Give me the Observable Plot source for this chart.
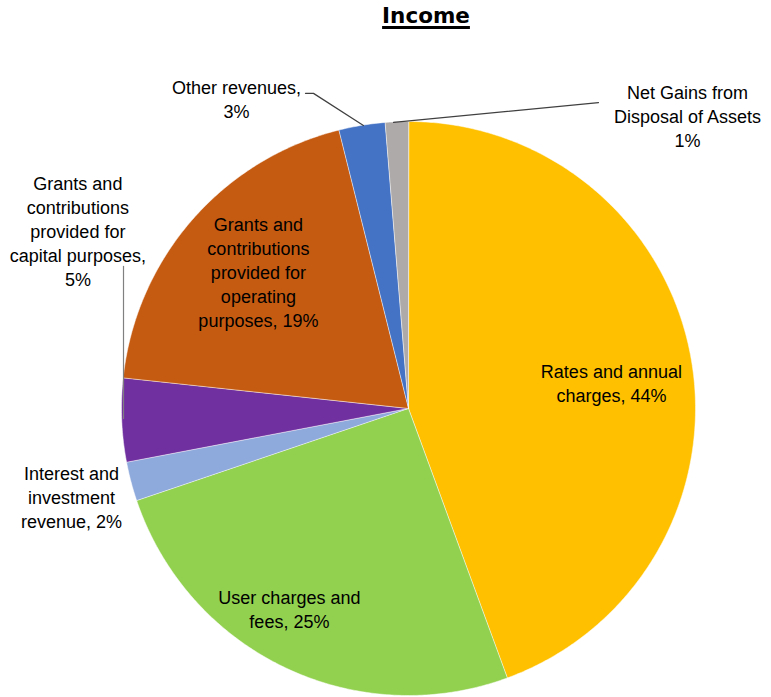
<!DOCTYPE html>
<html>
<head>
<meta charset="utf-8">
<script src="https://cdn.jsdelivr.net/npm/d3@7"></script>
<script src="https://cdn.jsdelivr.net/npm/@observablehq/plot@0.6"></script>
<style>
  body { margin: 0; background: #fff; }
  #wrap { position: relative; width: 771px; height: 697px; }
  #title {
    position: absolute; left: 0; top: 3px; width: 852px; text-align: center;
    font-family: "DejaVu Sans", sans-serif; font-weight: bold; font-size: 21.5px; line-height: 26px;
    color: #000; text-decoration: underline; text-decoration-thickness: 3px; text-underline-offset: 3px;
  }
  #chart { position: absolute; left: 0; top: 0; }
</style>
</head>
<body>
<div id="wrap">
  <div id="chart"></div>
  <div id="title">Income</div>
</div>
<script>
// ---- Data ----
const categories = [
  "Rates and annual charges",
  "User charges and fees",
  "Interest and investment revenue",
  "Grants and contributions provided for capital purposes",
  "Grants and contributions provided for operating purposes",
  "Other revenues",
  "Net Gains from Disposal of Assets"
];
const shares = [44.4, 25.4, 2.2, 4.7, 19.4, 2.6, 1.3];
const colors = ["#FFC000", "#92D050", "#8EA9DB", "#7030A0", "#C55A11", "#4472C4", "#AEAAAA"];
const labelText = [
  "Rates and annual\ncharges, ",
  "User charges and\nfees, ",
  "Interest and\ninvestment\nrevenue, ",
  "Grants and\ncontributions\nprovided for\ncapital purposes,\n",
  "Grants and\ncontributions\nprovided for\noperating\npurposes, ",
  "Other revenues,\n",
  "Net Gains from\nDisposal of Assets\n"
];

// ---- Layout (unit-circle coordinates) ----
const labelAnchor = [
  [0.707, 0.084], [-0.415, -0.704], [-1.174, -0.314], [-1.152, 0.613],
  [-0.523, 0.472], [-0.599, 1.073], [0.972, 1.014]
];
const leaders = [
  {id: "other", pts: [[-0.359, 1.098], [-0.331, 1.098], [-0.157, 0.986]], color: "#404040"},
  {id: "gains", pts: [[-0.052, 0.997], [0.662, 1.066]], color: "#404040"},
  {id: "capital", pts: [[-0.993, 0.495], [-0.993, -0.035]], color: "#808080"}
];

// ---- Build slice outlines ----
const total = d3.sum(shares);
const slicePts = [];
let acc = 0;
shares.forEach((s, i) => {
  const a0 = acc / total * 2 * Math.PI, a1 = (acc + s) / total * 2 * Math.PI;
  acc += s;
  slicePts.push({cat: categories[i], x: 0, y: 0});
  const n = Math.max(2, Math.ceil((a1 - a0) / (Math.PI / 360)));
  for (let k = 0; k <= n; k++) {
    const a = a0 + (a1 - a0) * k / n;
    slicePts.push({cat: categories[i], x: Math.sin(a), y: Math.cos(a)});
  }
});
const labels = categories.map((c, i) => ({
  cat: c, x: labelAnchor[i][0], y: labelAnchor[i][1],
  text: labelText[i] + Math.round(shares[i]) + "%"
}));
const leaderPts = leaders.flatMap(l => l.pts.map(p => ({id: l.id, x: p[0], y: p[1], color: l.color})));

const chart = Plot.plot({
  width: 771, height: 697,
  marginLeft: 121, marginRight: 76, marginTop: 121, marginBottom: 2,
  x: {domain: [-1, 1], axis: null},
  y: {domain: [-1, 1], axis: null},
  color: {domain: categories, range: colors},
  style: {fontFamily: "'Liberation Sans', Arial, sans-serif", fontSize: "18px", background: "#fff"},
  marks: [
    Plot.line(slicePts, {x: "x", y: "y", z: "cat", fill: "cat", stroke: "white", strokeWidth: 0.5, curve: "linear-closed"}),
    Plot.line(leaderPts, {x: "x", y: "y", z: "id", stroke: d => d.color, strokeWidth: 1.2}),
    Plot.text(labels, {x: "x", y: "y", text: "text", fill: "#000", fontSize: 18, lineHeight: 1.333, dy: -2})
  ]
});
document.getElementById("chart").appendChild(chart);
</script>
</body>
</html>
